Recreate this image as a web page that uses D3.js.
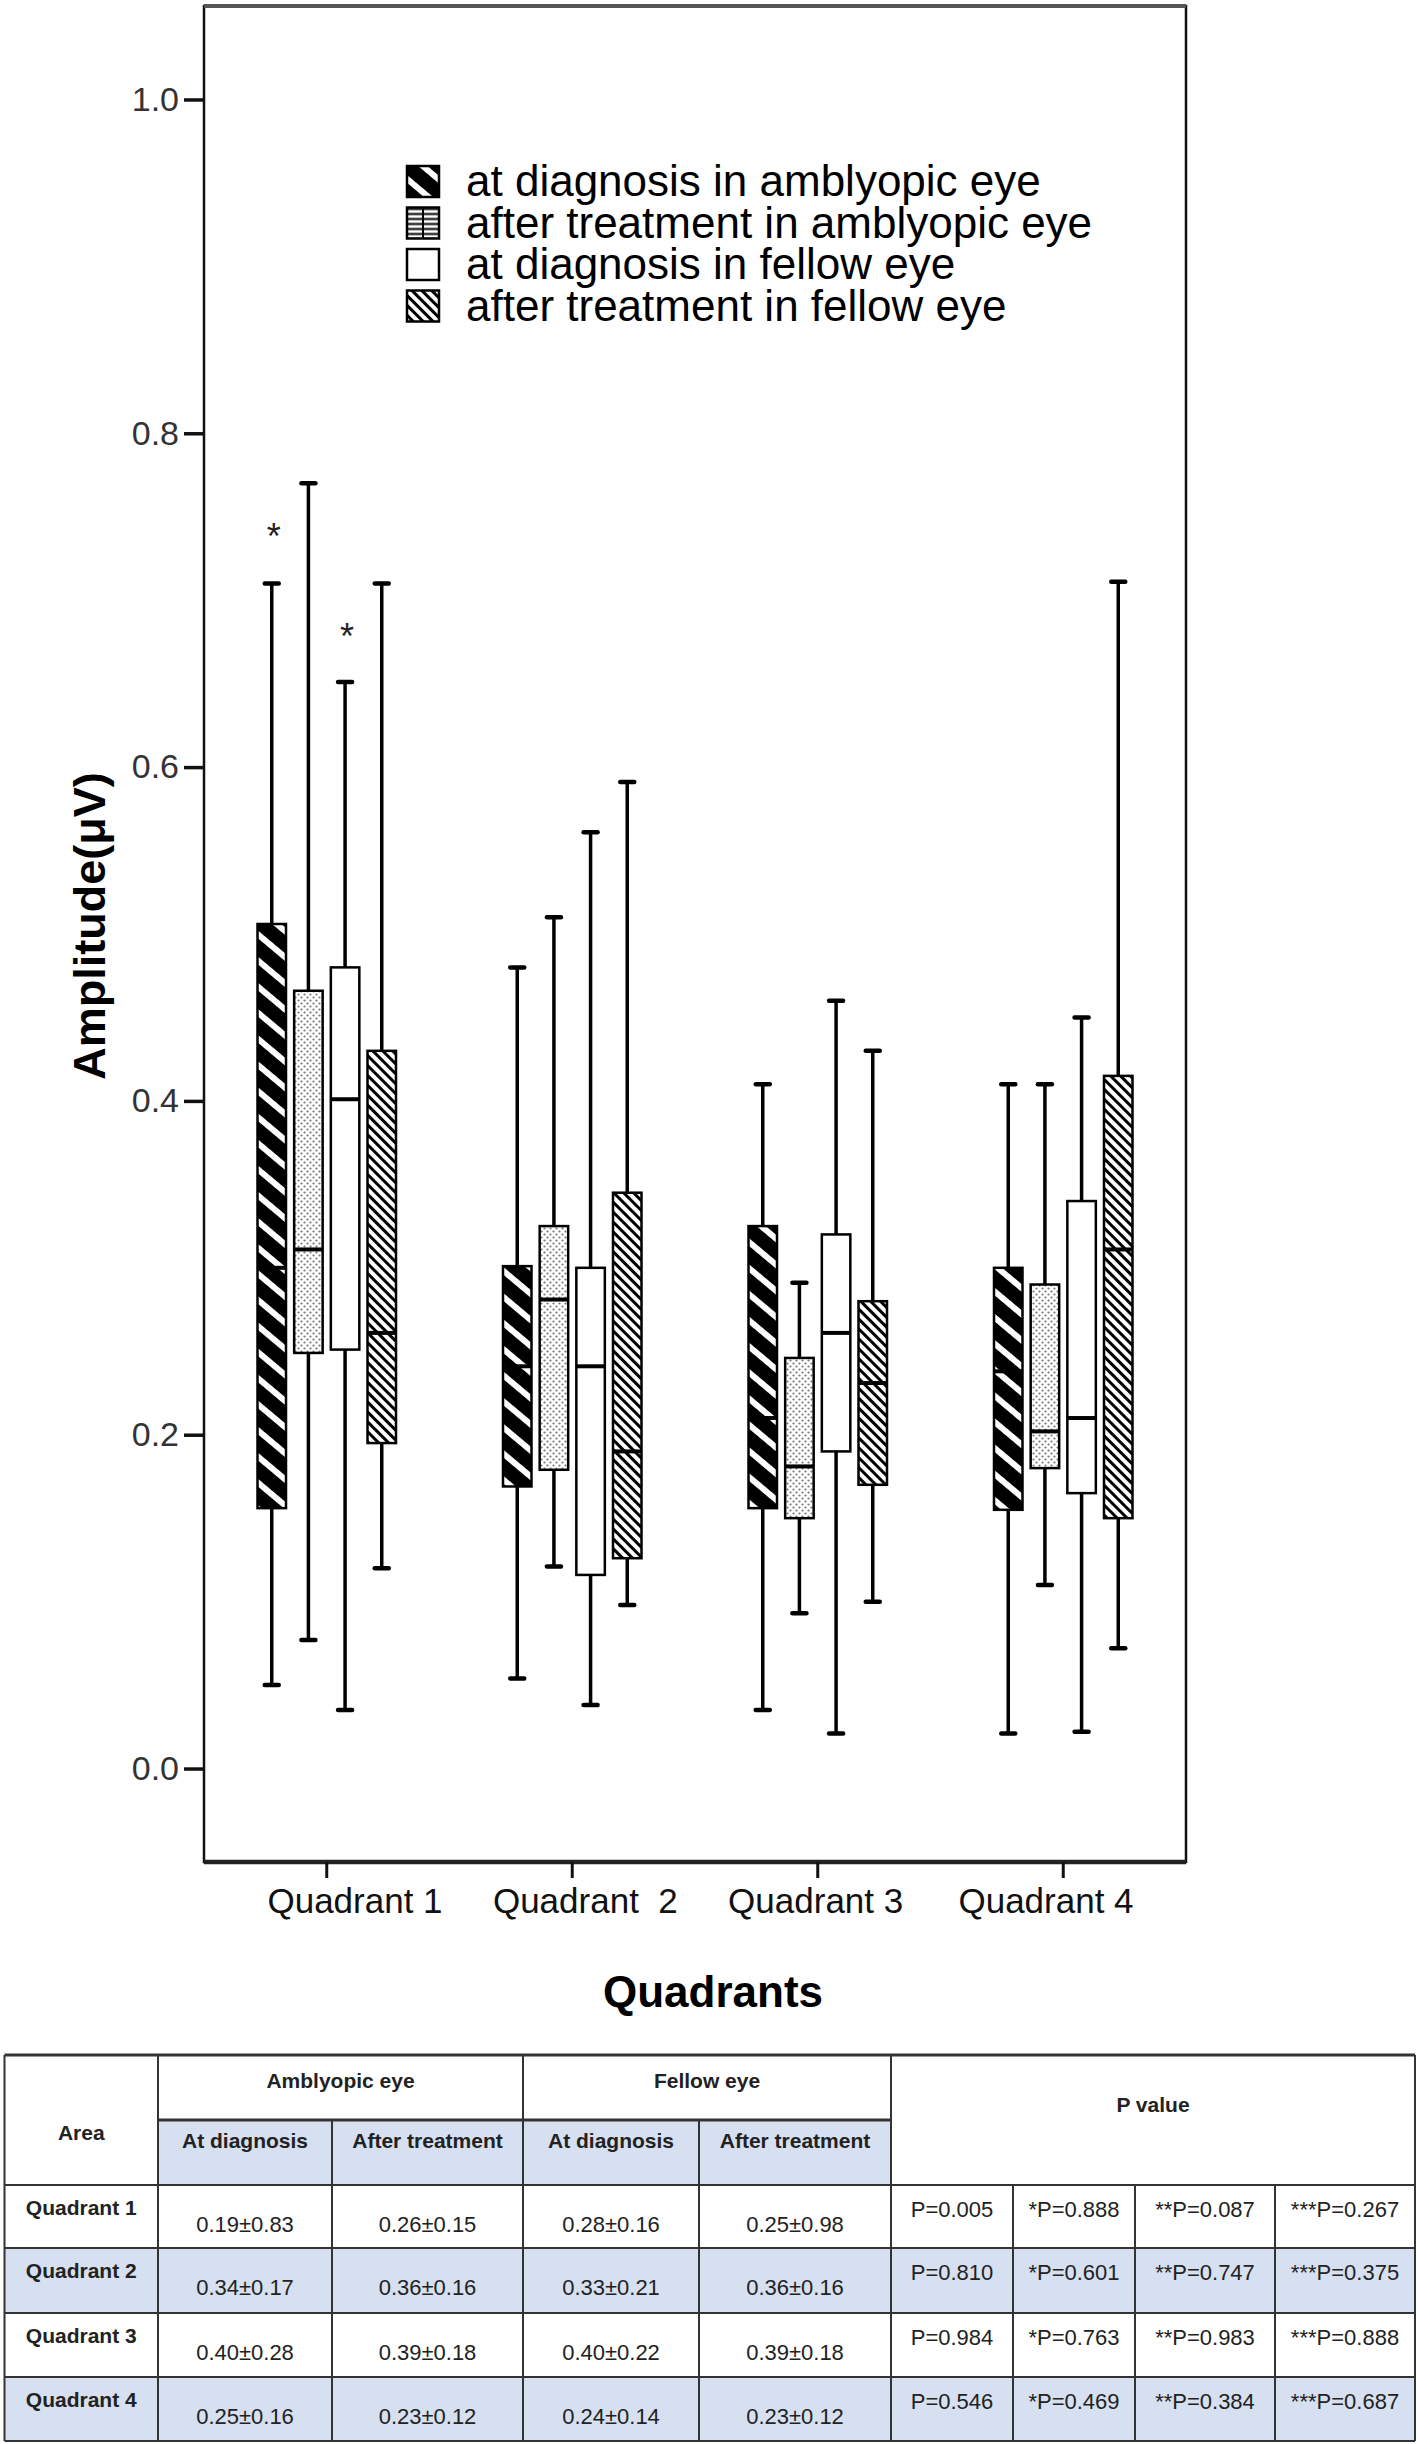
<!DOCTYPE html>
<html>
<head>
<meta charset="utf-8">
<script src="https://cdn.jsdelivr.net/npm/d3@7"></script>
<style>
  body { margin: 0; background: #fff; }
  svg { display: block; font-family: "Liberation Sans", Arial, sans-serif; }
</style>
</head>
<body>
<div id="chart"></div>
<script>
// categories and series
var quadrants = ["Quadrant 1", "Quadrant  2", "Quadrant 3", "Quadrant 4"];
var seriesNames = ["at diagnosis in amblyopic eye", "after treatment in amblyopic eye",
                   "at diagnosis in fellow eye", "after treatment in fellow eye"];

// box stats per quadrant: [lower whisker, Q1, median, Q3, upper whisker]
var diagAmblyopic  = [[0.050, 0.156, 0.300, 0.506, 0.710], [0.054, 0.169, 0.241, 0.301, 0.480],
                      [0.035, 0.156, 0.210, 0.325, 0.410], [0.021, 0.155, 0.238, 0.300, 0.410]];
var treatAmblyopic = [[0.077, 0.249, 0.311, 0.466, 0.770], [0.121, 0.179, 0.281, 0.325, 0.510],
                      [0.093, 0.150, 0.181, 0.246, 0.291], [0.110, 0.180, 0.202, 0.290, 0.410]];
var diagFellow     = [[0.035, 0.251, 0.401, 0.480, 0.651], [0.038, 0.116, 0.241, 0.300, 0.561],
                      [0.021, 0.190, 0.261, 0.320, 0.460], [0.022, 0.165, 0.210, 0.340, 0.450]];
var treatFellow    = [[0.120, 0.195, 0.261, 0.430, 0.710], [0.098, 0.126, 0.190, 0.345, 0.591],
                      [0.100, 0.170, 0.231, 0.280, 0.430], [0.072, 0.150, 0.311, 0.415, 0.711]];

// extreme values marked with *
var extremeQuadrant = ["Quadrant 1", "Quadrant 1"];
var extremeSeries   = [0, 2];
var extremeValue    = [0.742, 0.682];

var yTicks = [0, 0.2, 0.4, 0.6, 0.8, 1.0];

// table under the chart
var tableAreas   = ["Quadrant 1", "Quadrant 2", "Quadrant 3", "Quadrant 4"];
var amblyDiag    = ["0.19\u00b10.83", "0.34\u00b10.17", "0.40\u00b10.28", "0.25\u00b10.16"];
var amblyTreat   = ["0.26\u00b10.15", "0.36\u00b10.16", "0.39\u00b10.18", "0.23\u00b10.12"];
var fellowDiag   = ["0.28\u00b10.16", "0.33\u00b10.21", "0.40\u00b10.22", "0.24\u00b10.14"];
var fellowTreat  = ["0.25\u00b10.98", "0.36\u00b10.16", "0.39\u00b10.18", "0.23\u00b10.12"];
var pMain   = ["P=0.005", "P=0.810", "P=0.984", "P=0.546"];
var pOne    = ["*P=0.888", "*P=0.601", "*P=0.763", "*P=0.469"];
var pTwo    = ["**P=0.087", "**P=0.747", "**P=0.983", "**P=0.384"];
var pThree  = ["***P=0.267", "***P=0.375", "***P=0.888", "***P=0.687"];

drawChart();

function drawChart() {
  var svg = d3.select("#chart").append("svg")
      .attr("width", 1418)
      .attr("height", 2444);

  var plot = {left: 204, right: 1186, top: 6, bottom: 1862};
  var series = [diagAmblyopic, treatAmblyopic, diagFellow, treatFellow];
  var fills = ["url(#blackHatch)", "url(#dots)", "#fff", "url(#lightHatch)"];

  // patterns
  var defs = svg.append("defs");
  var p1 = defs.append("pattern").attr("id", "blackHatch")
      .attr("patternUnits", "userSpaceOnUse").attr("width", 40).attr("height", 20)
      .attr("patternTransform", "rotate(40)");
  p1.append("rect").attr("width", 40).attr("height", 20).attr("fill", "#000");
  p1.append("rect").attr("y", 7).attr("width", 40).attr("height", 6).attr("fill", "#fff");

  var p4 = defs.append("pattern").attr("id", "lightHatch")
      .attr("patternUnits", "userSpaceOnUse").attr("width", 20).attr("height", 7)
      .attr("patternTransform", "rotate(45)");
  p4.append("rect").attr("width", 20).attr("height", 7).attr("fill", "#fff");
  p4.append("rect").attr("y", 2).attr("width", 20).attr("height", 3).attr("fill", "#000");

  var p2 = defs.append("pattern").attr("id", "dots")
      .attr("patternUnits", "userSpaceOnUse").attr("width", 6).attr("height", 6);
  p2.append("rect").attr("width", 6).attr("height", 6).attr("fill", "#fff");
  p2.append("circle").attr("cx", 1.5).attr("cy", 1.5).attr("r", 1.1).attr("fill", "#777");
  p2.append("circle").attr("cx", 4.5).attr("cy", 4.5).attr("r", 1.1).attr("fill", "#777");

  var p5 = defs.append("pattern").attr("id", "hlines")
      .attr("patternUnits", "userSpaceOnUse").attr("width", 10).attr("height", 5);
  p5.append("rect").attr("width", 10).attr("height", 5).attr("fill", "#fff");
  p5.append("rect").attr("y", 1.5).attr("width", 10).attr("height", 2).attr("fill", "#000");

  // scales
  var x = d3.scaleBand().domain(quadrants).range([plot.left, plot.right]);
  var inner = d3.scalePoint().domain(d3.range(4)).range([-55, 55]);
  var y = d3.scaleLinear().domain([-0.056, 1.056]).range([plot.bottom, plot.top]);
  var labelX = d3.scalePoint().domain(quadrants).range([355, 1046]);
  var boxW = 28.5, capW = 14;

  function cx(q, s) { return x(q) + x.bandwidth() / 2 + inner(s); }

  // frame
  svg.append("rect")
      .attr("x", plot.left).attr("y", plot.top)
      .attr("width", plot.right - plot.left).attr("height", plot.bottom - plot.top)
      .attr("fill", "none").attr("stroke", "#111").attr("stroke-width", 2.5);
  svg.append("line").attr("x1", plot.left).attr("x2", plot.right)
      .attr("y1", plot.top).attr("y2", plot.top)
      .attr("stroke", "#555").attr("stroke-width", 4);
  svg.append("line").attr("x1", plot.left).attr("x2", plot.right)
      .attr("y1", plot.bottom).attr("y2", plot.bottom)
      .attr("stroke", "#222").attr("stroke-width", 4.5);

  // y axis
  var yAxis = svg.append("g")
      .attr("transform", "translate(" + plot.left + ",0)")
      .call(d3.axisLeft(y).tickValues(yTicks).tickSize(20).tickPadding(5).tickFormat(d3.format(".1f")));
  yAxis.select(".domain").remove();
  yAxis.selectAll(".tick line").attr("stroke", "#111").attr("stroke-width", 3.5);
  yAxis.selectAll(".tick text")
      .attr("font-size", 34).attr("fill", "#333")
      .attr("font-family", "'Liberation Sans', Arial, sans-serif");

  // x axis
  var xAxis = svg.append("g")
      .attr("transform", "translate(0," + plot.bottom + ")")
      .call(d3.axisBottom(x).tickSize(16));
  xAxis.select(".domain").remove();
  xAxis.selectAll(".tick line").attr("stroke", "#111").attr("stroke-width", 3);
  xAxis.selectAll(".tick text")
      .attr("font-size", 35).attr("fill", "#111")
      .attr("font-family", "'Liberation Sans', Arial, sans-serif")
      .style("white-space", "pre")
      .attr("x", function(d) { return labelX(d) - (x(d) + x.bandwidth() / 2); })
      .attr("y", 51).attr("dy", 0);

  // axis titles
  svg.append("text")
      .attr("transform", "translate(105,926)rotate(-90)")
      .attr("text-anchor", "middle")
      .attr("font-size", 45).attr("font-weight", "bold")
      .text("Amplitude(\u03bcV)");
  svg.append("text")
      .attr("x", 713).attr("y", 2007)
      .attr("text-anchor", "middle")
      .attr("font-size", 44).attr("font-weight", "bold")
      .text("Quadrants");

  // boxes
  var boxes = [];
  series.forEach(function(arr, s) {
    arr.forEach(function(v, i) {
      boxes.push({q: quadrants[i], s: s, lo: v[0], q1: v[1], med: v[2], q3: v[3], hi: v[4]});
    });
  });

  var g = svg.append("g");
  var box = g.selectAll(".box").data(boxes).enter().append("g").attr("class", "box");

  box.append("line")
      .attr("x1", function(d) { return cx(d.q, d.s); })
      .attr("x2", function(d) { return cx(d.q, d.s); })
      .attr("y1", function(d) { return y(d.hi); })
      .attr("y2", function(d) { return y(d.lo); })
      .attr("stroke", "#000").attr("stroke-width", 3.5);
  box.selectAll(".cap")
      .data(function(d) { return [d.lo, d.hi].map(function(v) { return {q: d.q, s: d.s, v: v}; }); })
      .enter().append("line")
      .attr("class", "cap")
      .attr("x1", function(d) { return cx(d.q, d.s) - capW / 2; })
      .attr("x2", function(d) { return cx(d.q, d.s) + capW / 2; })
      .attr("y1", function(d) { return y(d.v); })
      .attr("y2", function(d) { return y(d.v); })
      .attr("stroke", "#000").attr("stroke-width", 4.5).attr("stroke-linecap", "round");
  box.append("rect")
      .attr("x", function(d) { return cx(d.q, d.s) - boxW / 2; })
      .attr("y", function(d) { return y(d.q3); })
      .attr("width", boxW)
      .attr("height", function(d) { return y(d.q1) - y(d.q3); })
      .attr("fill", function(d) { return fills[d.s]; })
      .attr("stroke", "#000").attr("stroke-width", 2.5);
  box.append("line")
      .attr("x1", function(d) { return cx(d.q, d.s) - boxW / 2; })
      .attr("x2", function(d) { return cx(d.q, d.s) + boxW / 2; })
      .attr("y1", function(d) { return y(d.med); })
      .attr("y2", function(d) { return y(d.med); })
      .attr("stroke", "#000").attr("stroke-width", 4);

  // extremes
  g.selectAll(".extreme").data(extremeValue).enter().append("text")
      .attr("class", "extreme")
      .attr("x", function(d, i) { return cx(extremeQuadrant[i], extremeSeries[i]) + 2; })
      .attr("y", function(d) { return y(d) + 19; })
      .attr("text-anchor", "middle")
      .attr("font-size", 36).attr("fill", "#222")
      .text("*");

  // legend
  var legend = svg.append("g").attr("transform", "translate(406,165)");
  var item = legend.selectAll(".item").data(seriesNames).enter().append("g")
      .attr("class", "item")
      .attr("transform", function(d, i) { return "translate(0," + (i * 41.5) + ")"; });
  item.append("rect")
      .attr("x", 1).attr("y", 1).attr("width", 32).attr("height", 31)
      .attr("fill", function(d, i) { return i === 1 ? "url(#hlines)" : fills[i]; })
      .attr("stroke", "#000").attr("stroke-width", 2.5);
  item.filter(function(d, i) { return i === 1; }).append("line")
      .attr("x1", 17).attr("x2", 17).attr("y1", 1).attr("y2", 32)
      .attr("stroke", "#000").attr("stroke-width", 2);
  item.append("text")
      .attr("x", 60).attr("y", 31)
      .attr("font-size", 44).attr("fill", "#000")
      .text(function(d) { return d; });

  drawTable(svg);
}

function drawTable(svg) {
  var colX = [4.5, 158, 332, 523, 699, 891, 1013, 1135, 1275, 1415];
  var rowY = [2055, 2120, 2185, 2248, 2313, 2377, 2441];
  var blue = "#d6e0f0", ink = "#222", lineC = "#333";
  var t = svg.append("g");
  function mid(i) { return (colX[i] + colX[i + 1]) / 2; }

  // fills
  t.append("rect").attr("x", colX[1]).attr("y", rowY[1])
      .attr("width", colX[5] - colX[1]).attr("height", rowY[2] - rowY[1]).attr("fill", blue);
  [1, 3].forEach(function(r) {
    t.append("rect").attr("x", colX[0]).attr("y", rowY[r + 2])
        .attr("width", colX[9] - colX[0]).attr("height", rowY[r + 3] - rowY[r + 2]).attr("fill", blue);
  });

  // grid lines
  var hLines = [[rowY[0], colX[0], colX[9], 3], [rowY[1], colX[1], colX[5], 3]];
  for (var r = 2; r < rowY.length; r++) hLines.push([rowY[r], colX[0], colX[9], 2]);
  hLines.forEach(function(h) {
    t.append("line").attr("x1", h[1]).attr("x2", h[2]).attr("y1", h[0]).attr("y2", h[0])
        .attr("stroke", lineC).attr("stroke-width", h[3]);
  });
  var vLines = [[colX[0], rowY[0]], [colX[1], rowY[0]], [colX[2], rowY[1]], [colX[3], rowY[0]],
                [colX[4], rowY[1]], [colX[5], rowY[0]], [colX[6], rowY[2]], [colX[7], rowY[2]],
                [colX[8], rowY[2]], [colX[9], rowY[0]]];
  vLines.forEach(function(v) {
    t.append("line").attr("x1", v[0]).attr("x2", v[0]).attr("y1", v[1]).attr("y2", rowY[6])
        .attr("stroke", lineC).attr("stroke-width", 2);
  });

  function label(x, y, txt, bold) {
    t.append("text").attr("x", x).attr("y", y)
        .attr("text-anchor", "middle")
        .attr("font-size", bold ? 21 : 22)
        .attr("font-weight", bold ? "bold" : "normal")
        .attr("fill", ink)
        .text(txt);
  }

  // header
  label(mid(0), 2140, "Area", true);
  label((colX[1] + colX[3]) / 2, 2088, "Amblyopic eye", true);
  label((colX[3] + colX[5]) / 2, 2088, "Fellow eye", true);
  ["At diagnosis", "After treatment", "At diagnosis", "After treatment"].forEach(function(h, i) {
    label(mid(i + 1), 2148, h, true);
  });
  label((colX[5] + colX[9]) / 2, 2112, "P value", true);

  // body
  var valueCols = [amblyDiag, amblyTreat, fellowDiag, fellowTreat];
  var pCols = [pMain, pOne, pTwo, pThree];
  tableAreas.forEach(function(a, r) {
    var top = rowY[r + 2];
    label(mid(0), top + 30, a, true);
    valueCols.forEach(function(col, c) { label(mid(c + 1), top + 47, col[r], false); });
    pCols.forEach(function(col, c) { label(mid(c + 5), top + 32, col[r], false); });
  });
}
</script>
</body>
</html>
